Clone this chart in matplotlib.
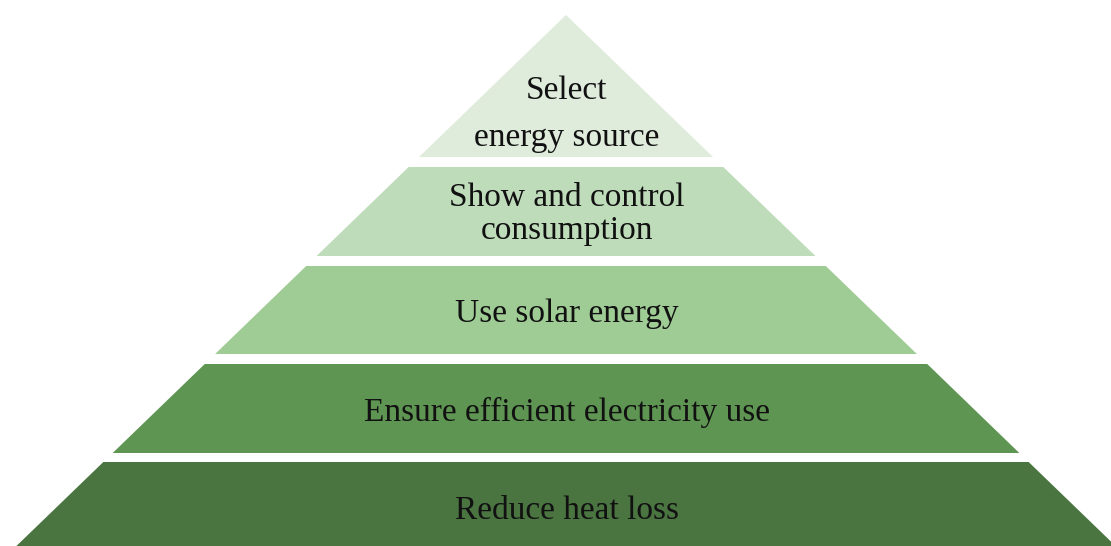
"""Green five-level pyramid (energy measures)."""

import matplotlib.pyplot as plt
from matplotlib.patches import Polygon

LABELS = [
    "Select\nenergy source",
    "Show and control\nconsumption",
    "Use solar energy",
    "Ensure efficient electricity use",
    "Reduce heat loss",
]
COLORS = ["#DFEBDB", "#BFDCBA", "#9FCB94", "#5E9552", "#4A7541"]

# geometry in pixel units of the 1111x546 canvas
W, H = 1111, 546
APEX_X, APEX_Y = 566, 15
SLOPE = 1.035  # half-width growth per pixel down
BANDS = [(15, 157), (167, 256), (266, 354), (364, 453), (462, 552)]
TEXT_Y = [114, 214, 314, 412, 511]
LINESPACING = [1.72, 1.1, 1.0, 1.0, 1.0]

fig = plt.figure(figsize=(W / 100, H / 100), dpi=100)
ax = fig.add_axes([0, 0, 1, 1])
ax.set_xlim(0, W)
ax.set_ylim(H, 0)
ax.axis("off")


def half(y):
    return (y - APEX_Y) * SLOPE


for (y0, y1), col, lab, ty, ls in zip(BANDS, COLORS, LABELS, TEXT_Y, LINESPACING):
    pts = [
        (APEX_X - half(y0), y0),
        (APEX_X + half(y0), y0),
        (APEX_X + half(y1), y1),
        (APEX_X - half(y1), y1),
    ]
    ax.add_patch(Polygon(pts, closed=True, facecolor=col, edgecolor="none"))
    ax.text(APEX_X + 1, ty, lab, ha="center", va="center", fontsize=24,
            family="Liberation Serif", color="#111111", linespacing=ls)

fig.savefig("out.png", dpi=100)
